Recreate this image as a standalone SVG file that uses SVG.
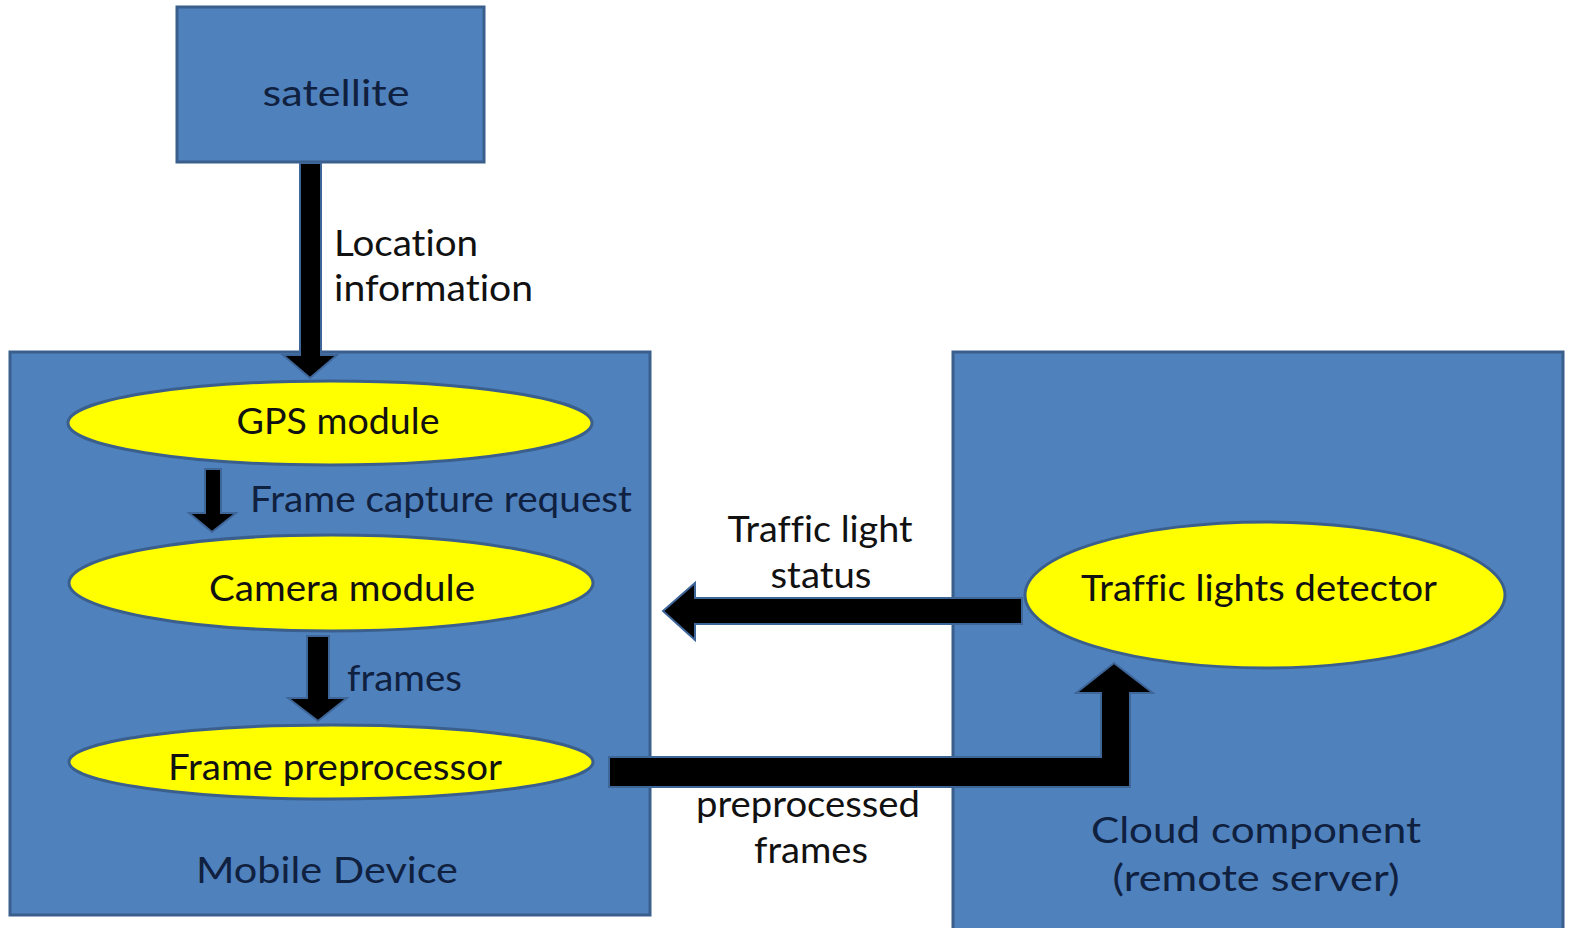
<svg xmlns="http://www.w3.org/2000/svg" width="1571" height="928" viewBox="0 0 1571 928">
<style>
.box{fill:#4F81BD;stroke:#3A5F8C;stroke-width:3}
.ell{fill:#FFFF00;stroke:#3A5F8C;stroke-width:3}
.arr{fill:#000;stroke:#3F6699;stroke-width:2;stroke-linejoin:miter}
text{font-family:Lato,"Open Sans","Liberation Sans",sans-serif;font-size:37px;text-anchor:middle;font-variant-ligatures:none}
.st{text-anchor:start}
.dk{fill:#10203F}
.bk{fill:#111}
</style>
<rect width="1571" height="928" fill="#fff"/>
<g id="satellite">
<rect class="box" x="177" y="7" width="307" height="155"/>
<text class="dk" x="336" y="106" textLength="147" lengthAdjust="spacingAndGlyphs">satellite</text>
</g>
<g id="mobile-device">
<rect class="box" x="10" y="352" width="640" height="563"/>
<text class="dk" x="327" y="883" textLength="262" lengthAdjust="spacingAndGlyphs">Mobile Device</text>
</g>
<g id="cloud-component">
<rect class="box" x="953" y="352" width="610" height="590"/>
<text class="dk" x="1256" y="843" textLength="330" lengthAdjust="spacingAndGlyphs">Cloud component</text>
<text class="dk" x="1256" y="891" textLength="287" lengthAdjust="spacingAndGlyphs">(remote server)</text>
</g>
<g id="gps-module">
<ellipse class="ell" cx="330" cy="423" rx="262" ry="42"/>
<text class="bk" x="338" y="434" textLength="203" lengthAdjust="spacingAndGlyphs">GPS module</text>
</g>
<g id="camera-module">
<ellipse class="ell" cx="331" cy="583" rx="262" ry="48"/>
<text class="bk" x="342" y="601" textLength="266" lengthAdjust="spacingAndGlyphs">Camera module</text>
</g>
<g id="frame-preprocessor">
<ellipse class="ell" cx="331" cy="762" rx="262" ry="37"/>
<text class="bk" x="335" y="780" textLength="334" lengthAdjust="spacingAndGlyphs">Frame preprocessor</text>
</g>
<g id="traffic-lights-detector">
<ellipse class="ell" cx="1265" cy="595" rx="240" ry="73"/>
<text class="bk" x="1259" y="601" textLength="356" lengthAdjust="spacingAndGlyphs">Traffic lights detector</text>
</g>
<g id="connectors">
<polygon class="arr" points="300,163 321,163 321,355 337,355 310,378 283,355 300,355"/>
<polygon class="arr" points="205,469 221,469 221,513 236,513 212,532 189,513 205,513"/>
<polygon class="arr" points="307,636 329,636 329,698 347,698 318,721 288,698 307,698"/>
<polygon class="arr" points="1022,598 1022,624 695,624 695,640 663,611 695,583 695,598"/>
<polygon class="arr" points="609,757 1101,757 1101,693 1076,693 1114,663 1153,693 1130,693 1130,787 609,787"/>
<text class="bk st" x="334" y="256" textLength="144" lengthAdjust="spacingAndGlyphs">Location</text>
<text class="bk st" x="334" y="301" textLength="199" lengthAdjust="spacingAndGlyphs">information</text>
<text class="dk st" x="250" y="512" textLength="382" lengthAdjust="spacingAndGlyphs">Frame capture request</text>
<text class="dk st" x="347" y="691" textLength="115" lengthAdjust="spacingAndGlyphs">frames</text>
<text class="bk" x="820" y="542" textLength="185" lengthAdjust="spacingAndGlyphs">Traffic light</text>
<text class="bk" x="821" y="588" textLength="101" lengthAdjust="spacingAndGlyphs">status</text>
<text class="bk" x="808" y="817" textLength="224" lengthAdjust="spacingAndGlyphs">preprocessed</text>
<text class="bk" x="811" y="863" textLength="114" lengthAdjust="spacingAndGlyphs">frames</text>
</g>
</svg>
